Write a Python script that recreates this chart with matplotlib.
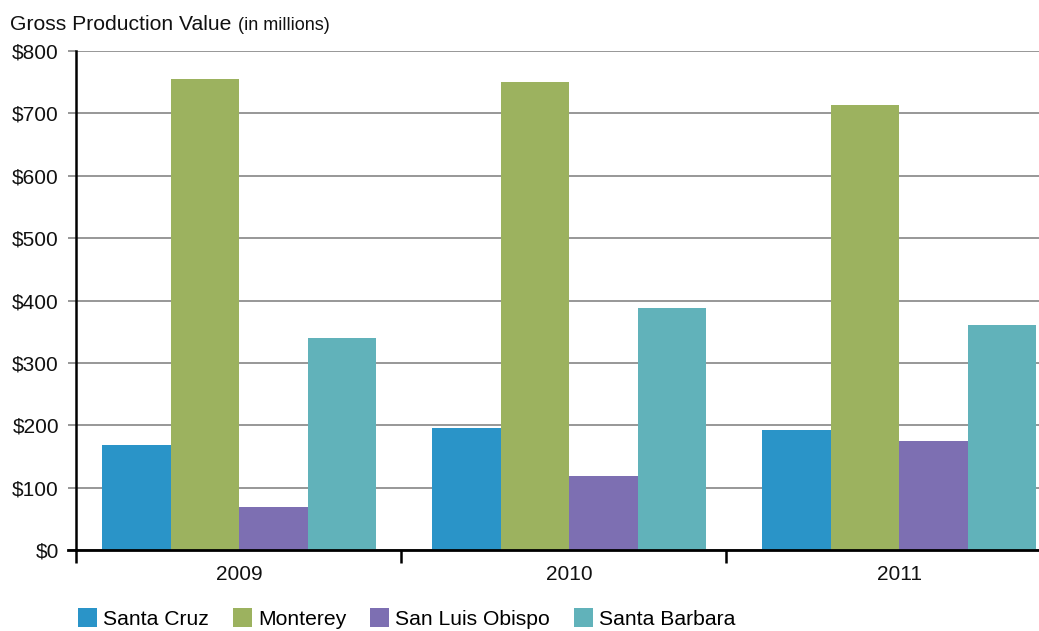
import matplotlib
matplotlib.use("Agg")
import matplotlib.pyplot as plt
from matplotlib.lines import Line2D
import numpy as np

plt.rcParams['font.family'] = ['Liberation Sans', 'DejaVu Sans']

years = ["2009", "2010", "2011"]
series = ["Santa Cruz", "Monterey", "San Luis Obispo", "Santa Barbara"]
santa_cruz = [168, 196, 192]
monterey = [755, 750, 713]
san_luis_obispo = [69, 119, 175]
santa_barbara = [340, 388, 361]
values = [santa_cruz, monterey, san_luis_obispo, santa_barbara]
colors = ["#2a94c8", "#9cb25f", "#7d6fb2", "#61b2ba"]
yticks = [0, 100, 200, 300, 400, 500, 600, 700, 800]
ytick_labels = ["$" + str(v) for v in yticks]

W, H = 1039, 631
fig = plt.figure(figsize=(W / 100, H / 100), dpi=100)
ax = fig.add_axes([76 / W, (H - 550) / H, 1 - 76 / W, 499 / H])

x = np.arange(len(years))
bw = 0.2076
for i, (vals, c, name) in enumerate(zip(values, colors, series)):
    ax.bar(x + (i - 1.5) * bw, vals, width=bw, color=c, label=name, zorder=3, linewidth=0)

ax.set_xlim(-0.494, 2.424)
ax.set_ylim(0, 800)
ax.set_yticks(yticks)
ax.set_yticklabels(ytick_labels, fontsize=15, color="#111111")
ax.yaxis.grid(True, color="#8f8f8f", linewidth=1.3, zorder=1)
ax.set_axisbelow(True)
ax.tick_params(axis='y', length=5.8, width=1.3, color="#8f8f8f", pad=6.5)

ax.set_xticks(x)
ax.set_xticklabels(years, fontsize=15, color="#111111")
ax.tick_params(axis='x', which='major', length=0, pad=10.5)
ax.set_xticks([-0.494, 0.491, 1.476], minor=True)
ax.tick_params(axis='x', which='minor', length=9.5, width=1.8, color="black")

for s in ["top", "right"]:
    ax.spines[s].set_visible(False)
ax.spines["left"].set_linewidth(1.8)
ax.spines["bottom"].set_linewidth(2.0)
ax.spines["left"].set_zorder(4)
ax.spines["bottom"].set_zorder(4)
ax.add_line(Line2D([-8 / 963, 0], [0, 0], transform=ax.transAxes, color="black",
                   linewidth=2.0, clip_on=False, zorder=5))

fig.text(10 / W, 1 - 30 / H, "Gross Production Value", fontsize=15.2, va="baseline", ha="left", color="#111111")
fig.text(238 / W, 1 - 30 / H, "(in millions)", fontsize=13, va="baseline", ha="left", color="#111111")

fig.legend(loc="lower left", bbox_to_anchor=(78 / W, 2 / H), ncol=4, frameon=False,
           fontsize=15.2, handlelength=0.9, handleheight=1.0, handletextpad=0.28,
           columnspacing=1.15, borderpad=0, borderaxespad=0)

fig.savefig("out.png", dpi=100)
